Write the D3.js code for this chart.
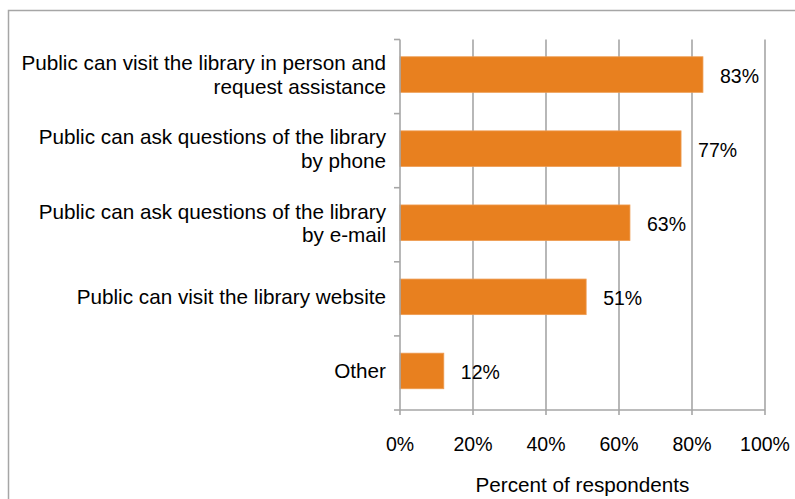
<!DOCTYPE html>
<html><head><meta charset="utf-8">
<script src="https://cdn.jsdelivr.net/npm/d3@7"></script>
<style>body{margin:0;background:#fff}svg{display:block}text{font-family:"Liberation Sans",Arial,sans-serif;fill:#000}</style>
</head><body>
<svg id="c" width="795" height="499"></svg>
<script>
const categories = [
  ["Public can visit the library in person and","request assistance"],
  ["Public can ask questions of the library","by phone"],
  ["Public can ask questions of the library","by e-mail"],
  ["Public can visit the library website"],
  ["Other"]
];
const values = [83, 77, 63, 51, 12];
const xTicks = [0, 20, 40, 60, 80, 100];
const xTitle = "Percent of respondents";

const svg = d3.select("#c");
const m = {left: 400, right: 765, top: 39.5, bottom: 410};
const grid = "#a6a6a6";

// outer border
svg.append("path").attr("d", "M8.5,499 V10.5 H795").attr("fill","none").attr("stroke","#a6a6a6").attr("stroke-width",1.5);

const x = d3.scaleLinear().domain([0,100]).range([m.left, m.right]);
const y = d3.scaleBand().domain(d3.range(values.length)).range([m.top, m.bottom]).paddingInner(0.52).paddingOuter(0.26);
const off = -2;
const cyOf = i => y(i) + off + y.bandwidth() / 2;

// gridlines
svg.append("g").selectAll("line").data(xTicks.slice(1)).join("line")
  .attr("x1", d => x(d)).attr("x2", d => x(d)).attr("y1", m.top).attr("y2", m.bottom + 5)
  .attr("stroke", grid).attr("stroke-width", 1.6);

// bars
svg.append("g").selectAll("rect").data(values).join("rect")
  .attr("x", x(0)).attr("y", (d,i) => y(i) + off).attr("width", d => x(d) - x(0)).attr("height", y.bandwidth())
  .attr("fill", "#E8801F").attr("stroke", "#EE9B50").attr("stroke-width", 0.8);

// left axis
const step = (m.bottom - m.top) / values.length;
svg.append("line").attr("x1", m.left).attr("x2", m.left).attr("y1", m.top).attr("y2", m.bottom + 5).attr("stroke", grid).attr("stroke-width", 1.6);
svg.append("g").selectAll("line").data(d3.range(values.length + 1)).join("line")
  .attr("x1", m.left - 6).attr("x2", m.left).attr("y1", i => m.top + i * step).attr("y2", i => m.top + i * step)
  .attr("stroke", grid).attr("stroke-width", 1.6);
// bottom axis
svg.append("line").attr("x1", m.left).attr("x2", m.right).attr("y1", m.bottom).attr("y2", m.bottom).attr("stroke", grid).attr("stroke-width", 1.6);

// x tick labels
svg.append("g").selectAll("text").data(xTicks).join("text")
  .attr("x", d => x(d)).attr("y", 451).attr("text-anchor", "middle").attr("font-size", 19.5)
  .text(d => d + "%");

// x title
svg.append("text").attr("x", (m.left + m.right) / 2).attr("y", 492).attr("text-anchor", "middle").attr("font-size", 20.7).text(xTitle);

// category labels
categories.forEach((lines, i) => {
  const cy = cyOf(i);
  const t = svg.append("text").attr("text-anchor", "end").attr("font-size", 20.7);
  const lh = 23.5;
  lines.forEach((ln, j) => {
    t.append("tspan").attr("x", 386).attr("y", cy + 7.5 + (j - (lines.length - 1) / 2) * lh).text(ln);
  });
});

// value labels
svg.append("g").selectAll("text").data(values).join("text")
  .attr("x", d => x(d) + 17).attr("y", (d,i) => cyOf(i) + 8.5)
  .attr("font-size", 19.5).text(d => d + "%");
</script>
</body></html>
